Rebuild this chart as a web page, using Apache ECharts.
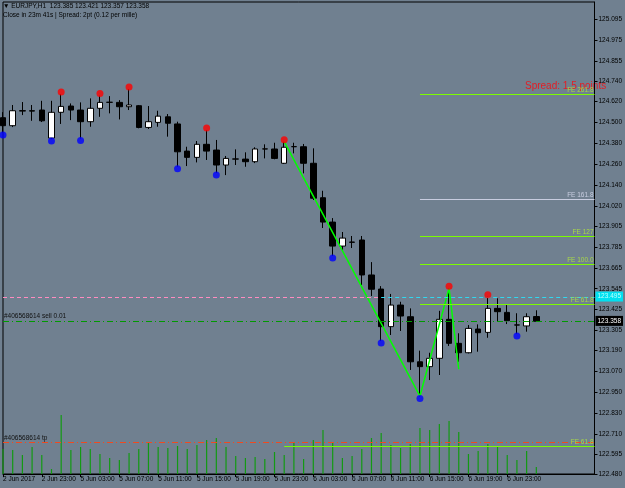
<!DOCTYPE html>
<html><head><meta charset="utf-8">
<script src="https://cdn.jsdelivr.net/npm/echarts@6.0.0/dist/echarts.min.js"></script>
<style>html,body{margin:0;padding:0;background:#708090;}#c{width:625px;height:488px;}</style>
</head><body><div id="c"></div>
<script>
const categories = [
 '2 Jun 19:00','2 Jun 20:00','2 Jun 21:00','2 Jun 22:00','2 Jun 23:00',
 '5 Jun 00:00','5 Jun 01:00','5 Jun 02:00','5 Jun 03:00','5 Jun 04:00','5 Jun 05:00','5 Jun 06:00','5 Jun 07:00',
 '5 Jun 08:00','5 Jun 09:00','5 Jun 10:00','5 Jun 11:00','5 Jun 12:00','5 Jun 13:00','5 Jun 14:00','5 Jun 15:00',
 '5 Jun 16:00','5 Jun 17:00','5 Jun 18:00','5 Jun 19:00','5 Jun 20:00','5 Jun 21:00','5 Jun 22:00','5 Jun 23:00',
 '6 Jun 00:00','6 Jun 01:00','6 Jun 02:00','6 Jun 03:00','6 Jun 04:00','6 Jun 05:00','6 Jun 06:00','6 Jun 07:00',
 '6 Jun 08:00','6 Jun 09:00','6 Jun 10:00','6 Jun 11:00','6 Jun 12:00','6 Jun 13:00','6 Jun 14:00','6 Jun 15:00',
 '6 Jun 16:00','6 Jun 17:00','6 Jun 18:00','6 Jun 19:00','6 Jun 20:00','6 Jun 21:00','6 Jun 22:00','6 Jun 23:00',
 '7 Jun 00:00','7 Jun 01:00','7 Jun 02:00',
 '7 Jun 03:00','7 Jun 04:00','7 Jun 05:00','7 Jun 06:00','7 Jun 07:00','7 Jun 08:00'
];
// [open, close, low, high]
const ohlc = [
 [124.528,124.482,124.440,124.560],[124.482,124.568,124.474,124.601],[124.566,124.569,124.543,124.618],
 [124.568,124.566,124.510,124.601],[124.572,124.510,124.503,124.625],[124.411,124.559,124.405,124.625],
 [124.559,124.593,124.492,124.664],[124.595,124.572,124.514,124.610],[124.572,124.505,124.408,124.616],
 [124.505,124.582,124.476,124.639],[124.582,124.616,124.533,124.655],[124.616,124.617,124.553,124.652],
 [124.616,124.591,124.518,124.629],[124.591,124.601,124.572,124.693],[124.597,124.472,124.467,124.601],
 [124.472,124.505,124.463,124.595],[124.501,124.537,124.476,124.568],[124.533,124.496,124.419,124.549],
 [124.492,124.332,124.246,124.505],[124.336,124.300,124.250,124.361],[124.300,124.375,124.271,124.394],
 [124.375,124.336,124.285,124.457],[124.342,124.256,124.210,124.400],[124.256,124.294,124.198,124.308],
 [124.290,124.291,124.256,124.346],[124.290,124.275,124.246,124.329],[124.275,124.348,124.267,124.358],
 [124.348,124.349,124.294,124.375],[124.348,124.294,124.289,124.384],[124.266,124.358,124.262,124.390],
 [124.361,124.362,124.323,124.384],[124.361,124.266,124.208,124.377],[124.266,124.065,124.055,124.352],
 [124.068,123.928,123.894,124.108],[123.928,123.790,123.733,123.951],[123.790,123.836,123.767,123.871],
 [123.813,123.812,123.779,123.848],[123.825,123.624,123.566,123.848],[123.624,123.542,123.503,123.698],
 [123.543,123.327,123.244,123.560],[123.327,123.451,123.279,123.515],[123.451,123.388,123.302,123.470],
 [123.384,123.125,123.078,123.432],[123.125,123.097,122.925,123.189],[123.097,123.145,123.020,123.177],
 [123.145,123.369,123.049,123.418],[123.369,123.231,123.216,123.547],[123.231,123.177,123.125,123.289],
 [123.177,123.317,123.173,123.336],[123.313,123.292,123.183,123.340],[123.294,123.432,123.263,123.499],
 [123.432,123.413,123.355,123.490],[123.409,123.361,123.342,123.451],[123.336,123.337,123.285,123.404],
 [123.331,123.384,123.298,123.404],[123.385,123.358,123.357,123.421]
];
const volumes = [25,24,19,27,19,5,59,24,27,25,20,16,14,21,25,32,27,26,28,25,29,34,36,27,18,16,17,15,22,19,
 32,15,34,44,32,16,18,25,36,41,29,26,30,46,44,50,53,42,20,23,30,28,19,14,23,7];
const priceTicks = [122.480,122.595,122.710,122.830,122.950,123.070,123.190,123.305,123.425,123.545,123.665,
 123.785,123.905,124.020,124.140,124.260,124.380,124.500,124.620,124.740,124.855,124.975,125.095];
const xTickLabels = ['2 Jun 2017','2 Jun 23:00','5 Jun 03:00','5 Jun 07:00','5 Jun 11:00','5 Jun 15:00',
 '5 Jun 19:00','5 Jun 23:00','6 Jun 03:00','6 Jun 07:00','6 Jun 11:00','6 Jun 15:00','6 Jun 19:00','6 Jun 23:00'];
const fractalHighs = [[6,124.664],[10,124.655],[13,124.693],[21,124.457],[29,124.390],[46,123.547],[50,123.499]];
const fractalLows = [[0,124.440],[5,124.405],[8,124.408],[18,124.246],[22,124.210],[34,123.733],[39,123.244],[43,122.925],[53,123.285]];
const zigzag = [[29,124.390],[43,122.928],[46,123.547],[47,123.082]];
const feNames = ['FE 261.8','FE 161.8','FE 127','FE 100.0','FE 61.8','FE 61.8'];
const feValues = [124.662,124.059,123.846,123.685,123.455,122.639];
const feStart = [43,43,43,43,43,29];
const lastIndex = 61;
const pendingPrice = 123.495;
const sellPrice = 123.358;
const tpPrice = 122.656;
const bidPrice = 123.358;
const headerLine1 = '\u25BC EURJPY,H1  123.385 123.421 123.357 123.358';
const headerLine2 = 'Close in 23m 41s | Spread: 2pt (0.12 per mille)';
const spreadText = 'Spread: 1.5 points';
const sellLabel = '#406568614 sell 0.01';
const tpLabel = '#406568614 tp';

const FONT = 'Liberation Sans';
const small = {fontFamily: FONT, fontSize: 6.5};

const feColors = ['#7cfc00','#c8cde0','#7cfc00','#7cfc00','#7cfc00','#7cfc00'];
const feLabelColors = ['#a8d848','#c8cde0','#a8d848','#a8d848','#a8d848','#a8d848'];
const HIDDEN = 'rgba(0,0,0,0)';

const markData = [];
feNames.forEach((n, i) => {
  markData.push([
    {coord: [feStart[i], feValues[i]], lineStyle: {color: feColors[i], width: 1, type: 'solid'},
     label: Object.assign({show: true, position: 'insideEndTop', formatter: n, color: feLabelColors[i], distance: 1}, small)},
    {coord: [lastIndex, feValues[i]]}
  ]);
});
markData.push([
  {coord: [0, pendingPrice], lineStyle: {color: '#ff8cc0', width: 1, type: [4,3]}, label: {show: false}},
  {coord: [39, pendingPrice]}
]);
markData.push([
  {coord: [39, pendingPrice], lineStyle: {color: '#30d8f0', width: 1, type: [4,3]}, label: {show: false}},
  {coord: [lastIndex, pendingPrice]}
]);
markData.push({yAxis: sellPrice, lineStyle: {color: '#009a00', width: 1.2, type: [6,3,1,3]},
  label: Object.assign({show: true, position: 'insideStartTop', formatter: sellLabel, color: '#111', distance: 1}, small)});
markData.push({yAxis: tpPrice, lineStyle: {color: '#f04a20', width: 1.2, type: [6,3,1,3]},
  label: Object.assign({show: true, position: 'insideStartTop', formatter: tpLabel, color: '#111', distance: 1}, small)});
markData.push({yAxis: pendingPrice, lineStyle: {color: HIDDEN, width: 1},
  label: Object.assign({show: true, position: 'end', formatter: pendingPrice.toFixed(3), color: '#b8ffff',
   backgroundColor: '#00e0f0', padding: [2,2,1,2], distance: 1}, small)});
markData.push({yAxis: bidPrice, lineStyle: {color: HIDDEN, width: 1},
  label: Object.assign({show: true, position: 'end', formatter: bidPrice.toFixed(3), color: '#fff',
   backgroundColor: '#000', padding: [2,2,1,2], distance: 1}, small)});

const chart = echarts.init(document.getElementById('c'), null, {renderer: 'canvas'});
chart.setOption({
  animation: false,
  backgroundColor: '#708090',
  grid: {left: 2, right: 28, top: 2, bottom: 14, show: true, borderColor: '#000', borderWidth: 1, backgroundColor: 'transparent'},
  xAxis: {
    type: 'category', data: categories, boundaryGap: false,
    axisLine: {show: true, lineStyle: {color: '#000', width: 1}},
    axisTick: {show: true, length: 3, lineStyle: {color: '#000'}, interval: (i) => i % 4 === 0 && i <= 52},
    axisLabel: Object.assign({color: '#000', align: 'left', margin: 2,
      interval: (i) => i % 4 === 0 && i <= 52,
      formatter: (v, i) => xTickLabels[i / 4] || ''}, small),
    splitLine: {show: false}
  },
  yAxis: [{
    type: 'value', position: 'right', min: 122.48, max: 125.193, scale: true,
    axisLine: {show: true, lineStyle: {color: '#000'}},
    axisTick: {show: true, length: 3, lineStyle: {color: '#000'}, customValues: priceTicks},
    axisLabel: Object.assign({color: '#000', margin: 4, customValues: priceTicks, formatter: v => v.toFixed(3)}, small),
    splitLine: {show: false}
  }, {
    type: 'value', min: 0, max: 472, show: false
  }],
  graphic: [
    {type: 'text', left: 3, top: 3, style: Object.assign({text: headerLine1, fill: '#000'}, small)},
    {type: 'text', left: 3, top: 12, style: Object.assign({text: headerLine2, fill: '#000'}, small)},
    {type: 'text', left: 525, top: 81, style: {text: spreadText, fill: '#e41c24', fontFamily: FONT, fontSize: 10}}
  ],
  series: [
    {type: 'bar', name: 'Volume', data: volumes, yAxisIndex: 1, barWidth: 1.2, z: 1,
     itemStyle: {color: '#139a13'}, silent: true},
    {type: 'candlestick', name: 'EURJPY', data: ohlc, z: 3, clip: true, barWidth: 6,
     itemStyle: {color: '#fff', color0: '#000', borderColor: '#000', borderColor0: '#000', borderWidth: 1}},
    {type: 'line', name: 'levels', data: [], z: 2, silent: true,
     markLine: {symbol: ['none','none'], silent: true, animation: false, data: markData}},
    {type: 'line', name: 'ZigZag', data: zigzag, z: 4, symbol: 'none', lineStyle: {color: '#00ff00', width: 1.5}},
    {type: 'scatter', name: 'FractalUp', data: fractalHighs, z: 5, symbol: 'circle', symbolSize: 7, symbolOffset: [0,-2],
     itemStyle: {color: '#ff0000'}},
    {type: 'scatter', name: 'FractalDown', data: fractalLows, z: 5, symbol: 'circle', symbolSize: 7, symbolOffset: [0,2],
     itemStyle: {color: '#0000ff'}}
  ]
});
</script></body></html>
